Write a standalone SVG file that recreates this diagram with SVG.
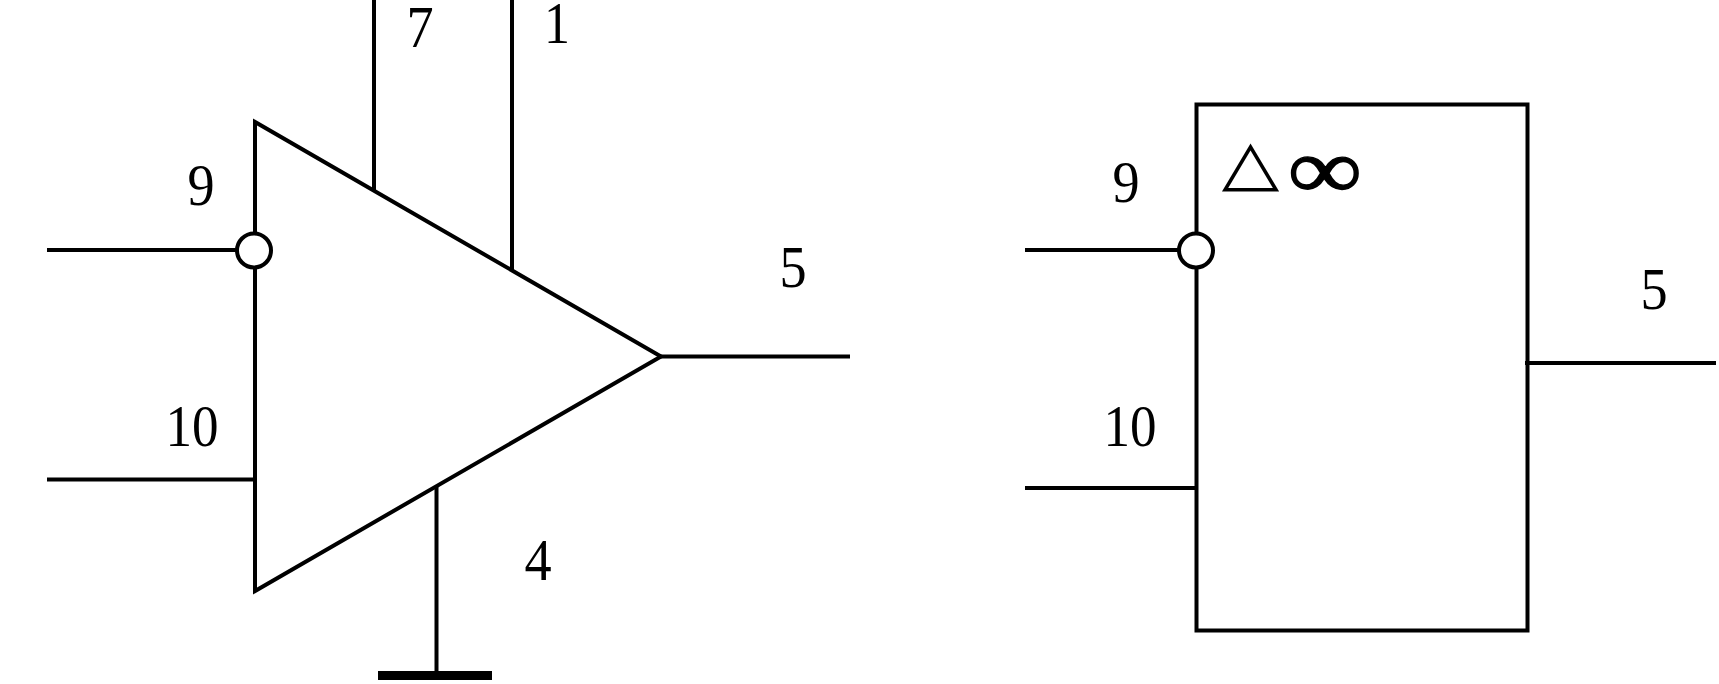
<svg xmlns="http://www.w3.org/2000/svg" width="1719" height="684" viewBox="0 0 1719 684">
<style>
.l{fill:none;stroke:#000;stroke-width:4}
.s{fill:#fff;stroke:#000;stroke-width:4}
text{font-family:"Liberation Serif","Times New Roman",serif;font-size:59px;fill:#000;text-anchor:middle}
</style>
<rect width="1719" height="684" fill="#fff"/>
<g id="amp-triangle">
<path class="s" d="M255 122V591L661 356.500Z"/>
<circle class="s" cx="254" cy="250.500" r="17"/>
</g>
<g id="amp-box">
<rect class="s" x="1196.500" y="104.500" width="331" height="526"/>
<circle class="s" cx="1196" cy="250.500" r="17"/>
<text transform="translate(1250.500 183.600) scale(1.04 .87)" style="font-family:'DejaVu Sans',sans-serif;font-size:72px">△</text>
<text transform="translate(1325 198) scale(1.1 .93)" style="font-size:92px;font-weight:bold;stroke:#000;stroke-width:1.5">∞</text>
</g>
<g id="connectors">
<path class="l" d="M47 250H238M47 479.500H255M661 356.500H850M374 0V190M512 0V270M436.500 486V674"/>
<path class="l" d="M1025 250H1178M1025 488H1196M1525 363H1716"/>
<rect x="378" y="671" width="114" height="9" fill="#000"/>
</g>
<g id="labels">
<text transform="translate(420 47) scale(.92 1)">7</text>
<text transform="translate(557 43) scale(.88 1)">1</text>
<text transform="translate(201 205) scale(.92 1)">9</text>
<text transform="translate(192 446) scale(.9 1)">10</text>
<text transform="translate(793 287) scale(.92 1)">5</text>
<text transform="translate(538 580) scale(.92 1)">4</text>
<text transform="translate(1126 202) scale(.92 1)">9</text>
<text transform="translate(1130 446) scale(.9 1)">10</text>
<text transform="translate(1654 309) scale(.92 1)">5</text>
</g>
</svg>
